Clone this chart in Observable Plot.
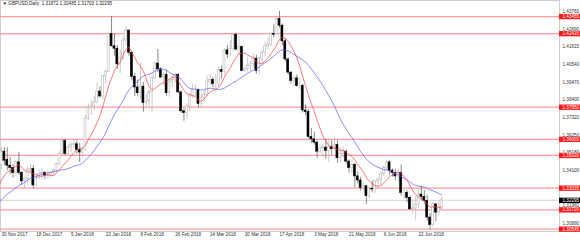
<!DOCTYPE html>
<html><head><meta charset="utf-8">
<script src="https://cdn.jsdelivr.net/npm/d3@7"></script>
<script src="https://cdn.jsdelivr.net/npm/@observablehq/plot@0.6"></script>
<style>body{margin:0;background:#fff} svg{display:block}</style>
</head><body><div id="chart"></div>
<script>
const symbolTitle = "GBPUSD,Daily";
const lastOHLC = ["1.31872", "1.32485", "1.31703", "1.32295"];
const xTickLabels = ["30 Nov 2017","18 Dec 2017","5 Jan 2018","23 Jan 2018","8 Feb 2018","26 Feb 2018","14 Mar 2018","30 Mar 2018","17 Apr 2018","3 May 2018","21 May 2018","6 Jun 2018","22 Jun 2018"];
const xTickBars = [0,12,24,36,48,60,72,84,96,108,120,132,144];
const yTicks = [1.43760,1.42690,1.41615,1.40540,1.39470,1.38400,1.37320,1.36250,1.35180,1.34100,1.31960,1.30890];
const levels = [1.43455,1.42415,1.37950,1.36000,1.35020,1.33035,1.31720,1.30545];
const bid = 1.32295;
// closes before the first visible bar (only feed the moving averages)
const priorClose = [1.3285,1.3270,1.3060,1.3080,1.3190,1.3135,1.3125,1.3125,1.3190,1.3125,1.3150,1.3190,1.3220,1.3215,1.3245,1.3245,1.3275,1.3330,1.3330,1.3320,1.3345,1.3440];
const open = [1.3442,1.3525,1.3475,1.3440,1.3425,1.3395,1.3460,1.3395,1.3345,1.3360,1.3415,1.3420,1.3320,1.3365,1.3390,1.3395,1.3380,1.3385,1.3395,1.3410,1.3450,
1.3510,1.3590,1.3510,1.3550,1.3565,1.3570,1.3535,1.3520,1.3535,1.3725,1.3790,1.3800,1.3825,1.3890,1.3860,1.3985,1.4010,1.4240,1.4165,1.4150,1.4055,1.4090,
1.4200,1.4260,1.4125,1.3980,1.3915,1.3880,1.3920,1.3820,1.3830,1.3885,1.3970,1.4060,1.4025,1.3975,1.3990,1.3880,1.3950,1.3960,1.3990,1.3885,
1.3770,1.3760,1.3800,1.3860,1.3900,1.3900,1.3815,1.3850,1.3870,1.3950,1.3960,1.3935,1.3935,1.4020,1.4010,1.4140,1.4115,1.4150,1.4235,1.4145,1.4160,1.4015,
1.4025,1.4045,1.4055,1.4090,1.4015,1.4090,1.4125,1.4165,1.4175,1.4240,1.4235,1.4330,1.4290,1.4195,1.4085,1.4005,1.3955,1.3970,1.3925,1.3925,1.3775,
1.3765,1.3615,1.3600,1.3580,1.3525,1.3545,1.3550,1.3530,1.3555,1.3540,1.3565,1.3485,1.3510,1.3525,1.3465,1.3425,1.3445,1.3375,1.3350,1.3305,1.3315,1.3255,1.3300,
1.3295,1.3345,1.3355,1.3390,1.3425,1.3460,1.3410,1.3395,1.3375,1.3395,1.3275,1.3275,1.3245,1.3175,1.3180,1.3200,1.3265,1.3250,1.3225,1.3125,1.3080,
1.3205,1.3155,1.31872];
const high = [1.3549,1.3549,1.3548,1.3490,1.3445,1.3475,1.3520,1.3405,1.3370,1.3430,1.3450,1.3440,1.3385,1.3410,1.3420,1.3405,1.3410,1.3405,1.3420,1.3455,1.3525,
1.3612,1.3600,1.3565,1.3585,1.3600,1.3590,1.3575,1.3555,1.3745,1.3815,1.3835,1.3860,1.3945,1.3920,1.3990,1.4025,1.4250,1.4345,1.4240,1.4170,1.4140,1.4220,
1.4285,1.4265,1.4135,1.4000,1.3960,1.4065,1.3945,1.3870,1.3900,1.3990,1.4070,1.4145,1.4035,1.4015,1.4020,1.3965,1.3985,1.4000,1.4000,1.3895,
1.3785,1.3815,1.3880,1.3935,1.3930,1.3905,1.3880,1.3890,1.3985,1.3995,1.3975,1.3990,1.4040,1.4045,1.4150,1.4170,1.4200,1.4245,1.4245,1.4220,1.4165,1.4040,
1.4095,1.4075,1.4120,1.4110,1.4100,1.4140,1.4190,1.4215,1.4250,1.4295,1.4340,1.4377,1.4300,1.4210,1.4095,1.4010,1.3990,1.3990,1.3970,1.3935,1.3810,
1.3780,1.3665,1.3645,1.3590,1.3565,1.3570,1.3600,1.3605,1.3595,1.3615,1.3590,1.3550,1.3555,1.3535,1.3475,1.3470,1.3455,1.3400,1.3370,1.3335,1.3320,1.3315,
1.3345,1.3350,1.3365,1.3400,1.3440,1.3475,1.3470,1.3420,1.3415,1.3415,1.3445,1.3300,1.3290,1.3255,1.3230,1.3250,1.3305,1.3315,1.3290,1.3260,1.3150,
1.3215,1.3210,1.3225,1.32485];
const low = [1.3415,1.3440,1.3410,1.3385,1.3365,1.3375,1.3380,1.3320,1.3300,1.3320,1.3390,1.3300,1.3320,1.3355,1.3350,1.3355,1.3355,1.3365,1.3375,1.3395,1.3440,
1.3500,1.3500,1.3495,1.3520,1.3545,1.3510,1.3460,1.3490,1.3530,1.3715,1.3745,1.3770,1.3815,1.3850,1.3840,1.3935,1.4005,1.4160,1.4105,1.4025,1.4000,1.4080,
1.4170,1.4105,1.3955,1.3860,1.3860,1.3840,1.3765,1.3800,1.3790,1.3765,1.3960,1.4005,1.3970,1.3925,1.3860,1.3855,1.3915,1.3940,1.3875,1.3760,
1.3710,1.3720,1.3765,1.3850,1.3860,1.3790,1.3790,1.3830,1.3860,1.3925,1.3915,1.3900,1.3920,1.3965,1.3990,1.4090,1.4100,1.4130,1.4135,1.4110,1.4010,1.4005,
1.4010,1.4015,1.4030,1.3995,1.3990,1.4055,1.4100,1.4145,1.4160,1.4215,1.4230,1.4275,1.4170,1.4070,1.3990,1.3935,1.3920,1.3915,1.3900,1.3760,1.3745,
1.3605,1.3575,1.3565,1.3485,1.3510,1.3485,1.3480,1.3460,1.3505,1.3530,1.3455,1.3455,1.3485,1.3450,1.3395,1.3395,1.3305,1.3330,1.3285,1.3290,1.3205,1.3240,
1.3275,1.3270,1.3305,1.3320,1.3375,1.3410,1.3380,1.3370,1.3350,1.3340,1.3255,1.3235,1.3215,1.3170,1.3145,1.3105,1.3180,1.3230,1.3205,1.3105,1.3050,
1.3070,1.3100,1.3135,1.31703];
const close = [1.3525,1.3470,1.3440,1.3425,1.3395,1.3460,1.3395,1.3345,1.3360,1.3415,1.3420,1.3320,1.3365,1.3390,1.3395,1.3380,1.3385,1.3395,1.3410,1.3450,1.3510,
1.3590,1.3510,1.3550,1.3565,1.3570,1.3535,1.3520,1.3535,1.3725,1.3790,1.3800,1.3825,1.3890,1.3860,1.3985,1.4010,1.4240,1.4165,1.4150,1.4055,1.4090,1.4200,
1.4260,1.4125,1.3980,1.3915,1.3880,1.3920,1.3820,1.3830,1.3885,1.3970,1.4060,1.4025,1.3975,1.3990,1.3880,1.3950,1.3960,1.3990,1.3885,1.3770,
1.3760,1.3800,1.3860,1.3900,1.3900,1.3815,1.3850,1.3870,1.3950,1.3960,1.3935,1.3935,1.4020,1.4010,1.4140,1.4115,1.4150,1.4235,1.4145,1.4160,1.4015,1.4025,
1.4045,1.4055,1.4090,1.4015,1.4090,1.4125,1.4165,1.4175,1.4240,1.4235,1.4330,1.4290,1.4195,1.4085,1.4005,1.3955,1.3970,1.3925,1.3925,1.3775,1.3765,
1.3615,1.3600,1.3580,1.3525,1.3545,1.3550,1.3530,1.3555,1.3540,1.3565,1.3485,1.3510,1.3525,1.3465,1.3425,1.3445,1.3375,1.3350,1.3305,1.3315,1.3255,1.3300,
1.3295,1.3345,1.3355,1.3390,1.3425,1.3460,1.3410,1.3395,1.3375,1.3395,1.3275,1.3275,1.3245,1.3175,1.3180,1.3200,1.3265,1.3250,1.3225,1.3125,1.3080,1.3205,
1.3155,1.3187,1.32295];

const bars = close.map((c, i) => ({i, open: open[i], high: high[i], low: low[i], close: c, up: c >= open[i]}));
const maSeries = [
  ...priorClose.map((c, j) => ({i: j - priorClose.length, close: c})),
  ...bars.map(b => ({i: b.i, close: b.close}))
];

const W = 580, H = 242, mR = 21, mB = 11;
const barStep = 2.896;
const xMin = -1 / barStep, xMax = (W - mR - 1) / barStep;
const labelEnd = xMax + 22 / barStep;
const font = 4.6;

const chart = Plot.plot({
  width: W, height: H,
  marginTop: 0, marginRight: mR, marginBottom: mB, marginLeft: 0,
  style: {fontFamily: "'Liberation Sans', Arial, sans-serif", background: "#fff", overflow: "visible"},
  x: {type: "linear", domain: [xMin, xMax], axis: null},
  y: {domain: [1.30404, 1.44428], axis: null},
  marks: [
    Plot.frame({stroke: "#c4c4c4", strokeWidth: 0.8}),
    Plot.ruleY(levels, {y: d => d, stroke: "#ff9c9c", strokeWidth: 1.2}),
    Plot.ruleY([bid], {y: d => d, stroke: "#d0d0d0", strokeWidth: 0.8}),
    Plot.ruleX(bars, {x: "i", y1: "low", y2: "high", stroke: d => d.up ? "#bdbdbd" : "#6a6a6a", strokeWidth: 0.8, clip: true}),
    Plot.rect(bars, {x1: d => d.i - 0.34, x2: d => d.i + 0.34, y1: "open", y2: "close",
      fill: d => d.up ? "#ffffff" : "#000000", stroke: d => d.up ? "#b8b8b8" : "#000000", strokeWidth: 0.6, clip: true}),
    Plot.lineY(maSeries, Plot.windowY({k: 21, anchor: "end"}, {x: "i", y: "close", stroke: "#5a5aff", strokeWidth: 0.7, clip: true})),
    Plot.lineY(maSeries, Plot.windowY({k: 8, anchor: "end"}, {x: "i", y: "close", stroke: "#ff4040", strokeWidth: 0.7, clip: true})),
    Plot.text(yTicks, {y: d => d, text: d => d.toFixed(5), frameAnchor: "right", dx: 3, textAnchor: "start", fontSize: font, fill: "#333"}),
    Plot.ruleY(levels, {y: d => d, x1: xMax, x2: labelEnd, stroke: "#ff1a1a", strokeWidth: 5.4}),
    Plot.text(levels, {y: d => d, text: d => d.toFixed(5), frameAnchor: "right", dx: 3, textAnchor: "start", fontSize: font, fill: "#fff"}),
    Plot.ruleY([bid], {y: d => d, x1: xMax, x2: labelEnd, stroke: "#000", strokeWidth: 5.4}),
    Plot.text([bid], {y: d => d, text: d => d.toFixed(5), frameAnchor: "right", dx: 3, textAnchor: "start", fontSize: font, fill: "#fff"}),
    Plot.text(xTickBars, {x: d => d, text: (d, k) => xTickLabels[k], frameAnchor: "bottom", dy: 1, lineAnchor: "top", textAnchor: "start", fontSize: font, fill: "#333"}),
    Plot.text([`▼ ${symbolTitle}  ${lastOHLC.join(" ")}`], {frameAnchor: "top-left", dx: 2, dy: 1.5, lineAnchor: "top", textAnchor: "start", fontSize: font, fill: "#222"})
  ]
});
document.getElementById("chart").appendChild(chart);
</script></body></html>
